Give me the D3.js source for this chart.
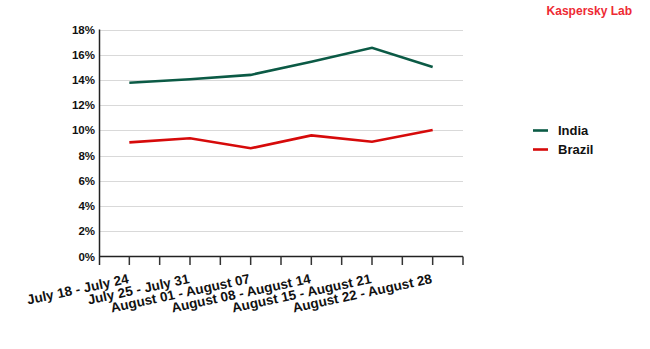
<!DOCTYPE html>
<html>
<head>
<meta charset="utf-8">
<script src="https://cdnjs.cloudflare.com/ajax/libs/d3/7.8.5/d3.min.js"></script>
<style>
  html, body { margin: 0; padding: 0; background: #fff; }
  svg { display: block; font-family: "Liberation Sans", Arial, sans-serif; }
</style>
</head>
<body>
<svg id="chart" width="650" height="349"></svg>
<script>
// Weekly share of detections per country (%)
const weeks = [
  "July 18 - July 24",
  "July 25 - July 31",
  "August 01 - August 07",
  "August 08 - August 14",
  "August 15 - August 21",
  "August 22 - August 28"
];
const seriesNames = ["India", "Brazil"];
const india = [13.78, 14.05, 14.4, 15.45, 16.55, 15.03];
const brazil = [9.05, 9.38, 8.58, 9.6, 9.1, 10.03];
const seriesColors = ["#0b5a45", "#d60a0a"];
const yTicks = [0, 2, 4, 6, 8, 10, 12, 14, 16, 18];

const series = [
  { name: seriesNames[0], values: india, color: seriesColors[0] },
  { name: seriesNames[1], values: brazil, color: seriesColors[1] }
];

const svg = d3.select("#chart");
const plotLeft = 99, plotRight = 463, plotTop = 29.5, plotBottom = 256.5;

const x = d3.scalePoint().domain(weeks).range([plotLeft, plotRight]).padding(0.5);
const y = d3.scaleLinear().domain([0, 18]).range([plotBottom, plotTop]);

// horizontal grid
svg.append("g")
  .selectAll("line")
  .data(yTicks.filter(d => d > 0))
  .join("line")
  .attr("x1", plotLeft).attr("x2", plotRight)
  .attr("y1", d => Math.round(y(d)) + 0.5).attr("y2", d => Math.round(y(d)) + 0.5)
  .attr("stroke", "#d9d9d9").attr("stroke-width", 1);

// y axis labels
svg.append("g")
  .selectAll("text")
  .data(yTicks)
  .join("text")
  .attr("x", plotLeft - 4)
  .attr("y", d => y(d))
  .attr("dy", "0.35em")
  .attr("text-anchor", "end")
  .attr("font-size", 11.5)
  .attr("font-weight", "bold")
  .attr("fill", "#111")
  .text(d => d + "%");

// y axis line
svg.append("line")
  .attr("x1", plotLeft + 0.5).attr("x2", plotLeft + 0.5)
  .attr("y1", plotTop).attr("y2", plotBottom + 8.5)
  .attr("stroke", "#222").attr("stroke-width", 1.5);

// x axis with ticks at category centres and band edges
const step = x.step();
const tickPos = d3.range(0, weeks.length * 2 + 1).map(i => plotLeft + i * step / 2);
const xAxis = svg.append("g");
xAxis.append("line")
  .attr("x1", plotLeft).attr("x2", plotRight)
  .attr("y1", plotBottom).attr("y2", plotBottom)
  .attr("stroke", "#222").attr("stroke-width", 1.5);
xAxis.selectAll("line.tick")
  .data(tickPos.slice(1))
  .join("line")
  .attr("class", "tick")
  .attr("x1", d => d).attr("x2", d => d)
  .attr("y1", plotBottom).attr("y2", plotBottom + 8.5)
  .attr("stroke", "#333").attr("stroke-width", 1.5);

// rotated category labels
xAxis.selectAll("text")
  .data(weeks)
  .join("text")
  .attr("transform", d => `translate(${x(d)},${plotBottom + 26.5}) rotate(-12)`)
  .attr("text-anchor", "end")
  .attr("font-size", 13.5)
  .attr("font-weight", "bold")
  .attr("fill", "#111")
  .text(d => d);

// series lines
const line = d3.line()
  .x((d, i) => x(weeks[i]))
  .y(d => y(d));

svg.append("g")
  .selectAll("path")
  .data(series)
  .join("path")
  .attr("d", d => line(d.values))
  .attr("fill", "none")
  .attr("stroke", d => d.color)
  .attr("stroke-width", 2.6)
  .attr("stroke-linejoin", "miter");

// legend
const legend = svg.append("g")
  .selectAll("g")
  .data(series)
  .join("g")
  .attr("transform", (d, i) => `translate(533,${130.5 + i * 19})`);
legend.append("line")
  .attr("x1", 0).attr("x2", 15)
  .attr("stroke", d => d.color).attr("stroke-width", 2.6);
legend.append("text")
  .attr("x", 25).attr("dy", "0.35em")
  .attr("font-size", 13)
  .attr("font-weight", "bold")
  .attr("fill", "#111")
  .text(d => d.name);

// credit
svg.append("text")
  .attr("x", 632).attr("y", 15)
  .attr("text-anchor", "end")
  .attr("font-size", 12)
  .attr("font-weight", "bold")
  .attr("fill", "#ee2a34")
  .text("Kaspersky Lab");
</script>
</body>
</html>
